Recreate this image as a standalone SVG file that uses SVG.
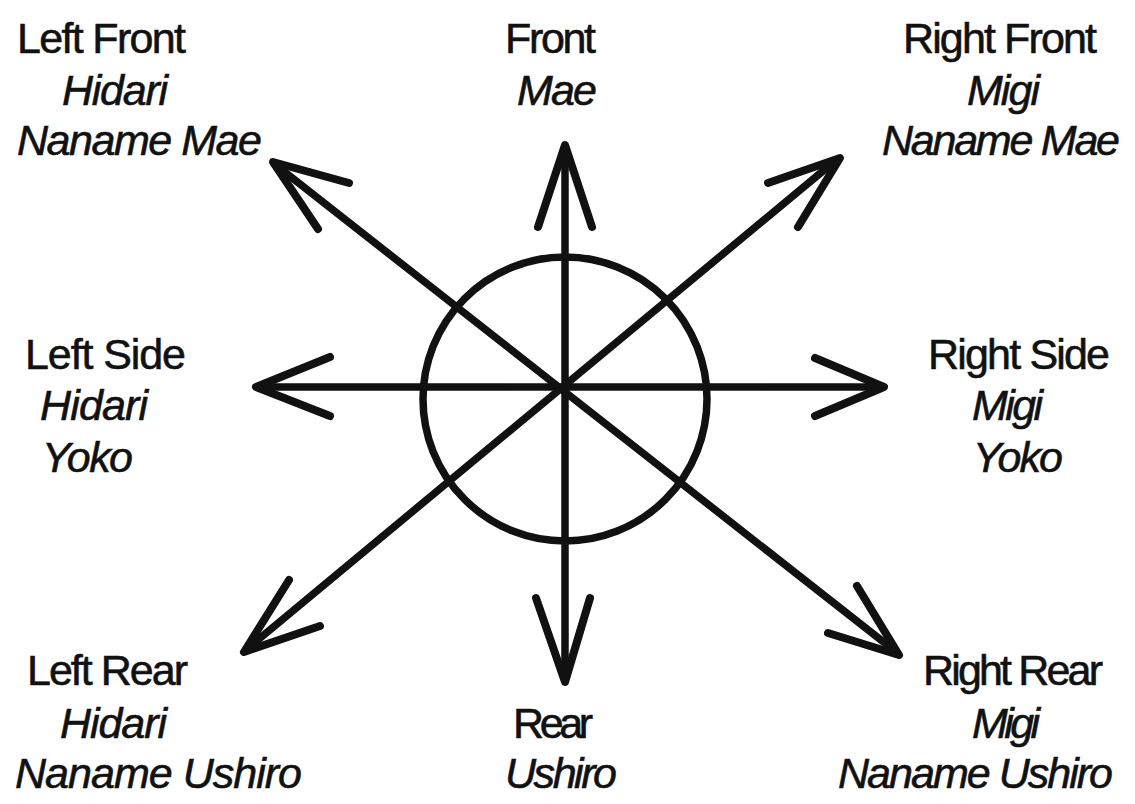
<svg xmlns="http://www.w3.org/2000/svg" width="1135" height="804" viewBox="0 0 1135 804">
<style>
text{font-family:"Liberation Sans",Arial,sans-serif;font-size:43px;fill:#111;stroke:#111;stroke-width:0.6}
.i{font-style:italic}
.ln{stroke:#111;stroke-width:7.5;fill:none;stroke-linecap:round}
.hd{stroke:#111;stroke-width:8;fill:none;stroke-linecap:round;stroke-linejoin:round}
</style>
<rect width="1135" height="804" fill="#fff"/>
<g id="circle"><ellipse cx="565" cy="399" rx="142" ry="142" fill="none" stroke="#111" stroke-width="7.5"/></g>
<g id="connectors">
<line class="ln" x1="565" y1="150" x2="565" y2="678"/>
<line class="ln" x1="260" y1="387" x2="880" y2="387"/>
<line class="ln" x1="277" y1="166" x2="895" y2="651"/>
<line class="ln" x1="835" y1="161" x2="248" y2="648"/>
<polyline class="hd" points="538,227 565,145 592,227"/>
<polyline class="hd" points="536,598 565,682 590,598"/>
<polyline class="hd" points="330,357 256,387 330,416"/>
<polyline class="hd" points="815,358 884,387 815,416"/>
<polyline class="hd" points="349,183 273,162 318,229"/>
<polyline class="hd" points="768,183 840,158 798,227"/>
<polyline class="hd" points="289,580 244,652 320,626"/>
<polyline class="hd" points="857,586 899,655 828,633"/>
</g>
<g id="left-front"><text x="17" y="53" textLength="169">Left Front</text><text class="i" x="62" y="105" textLength="106">Hidari</text><text class="i" x="17" y="155" textLength="245">Naname Mae</text></g>
<g id="front"><text x="505" y="53" textLength="91">Front</text><text class="i" x="517" y="105" textLength="80">Mae</text></g>
<g id="right-front"><text x="903" y="53" textLength="194">Right Front</text><text class="i" x="967" y="105" textLength="73">Migi</text><text class="i" x="882" y="155" textLength="238">Naname Mae</text></g>
<g id="left-side"><text x="25" y="369" textLength="161">Left Side</text><text class="i" x="40" y="420" textLength="108">Hidari</text><text class="i" x="42" y="472" textLength="91">Yoko</text></g>
<g id="right-side"><text x="928" y="369" textLength="182">Right Side</text><text class="i" x="972" y="420" textLength="71">Migi</text><text class="i" x="973" y="472" textLength="90">Yoko</text></g>
<g id="left-rear"><text x="27" y="685" textLength="161">Left Rear</text><text class="i" x="60" y="738" textLength="107">Hidari</text><text class="i" x="15" y="788" textLength="287">Naname Ushiro</text></g>
<g id="rear"><text x="513" y="738" textLength="80">Rear</text><text class="i" x="505" y="788" textLength="112">Ushiro</text></g>
<g id="right-rear"><text x="923" y="685" textLength="180">Right Rear</text><text class="i" x="972" y="738" textLength="68">Migi</text><text class="i" x="838" y="788" textLength="275">Naname Ushiro</text></g>
</svg>
